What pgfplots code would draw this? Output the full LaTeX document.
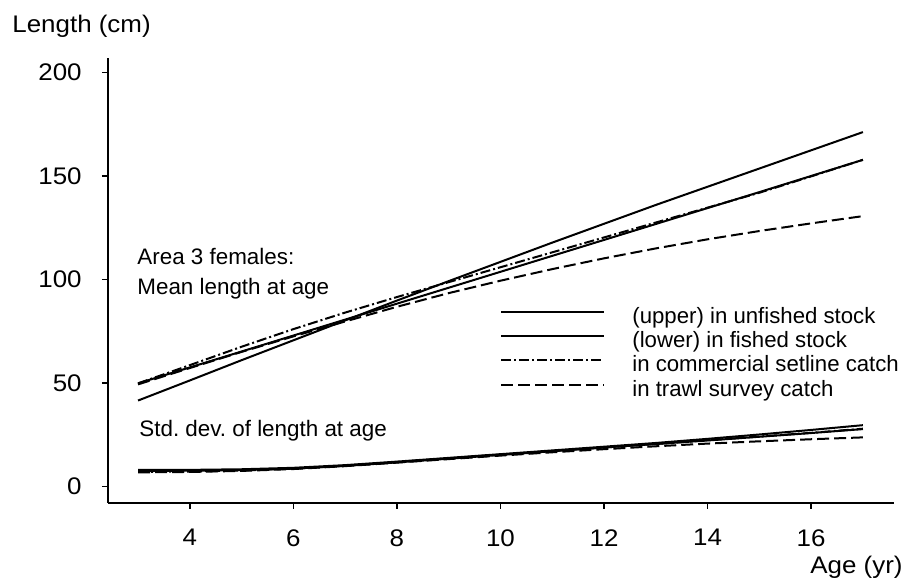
\documentclass[border=0pt]{standalone}
\usepackage{fontspec}
\setmainfont{Liberation Sans}
\newfontfamily\widefont{Liberation Sans}[FakeStretch=1.08]
\usepackage{pgfplots}
\pgfplotsset{compat=1.18}
\frenchspacing
\begin{document}
\begin{tikzpicture}
\path[use as bounding box] (-54pt,-39.5pt) rectangle (398pt,251.5pt);
\begin{axis}[
  at={(0pt,0pt)}, anchor=south west,
  width=393pt, height=222.5pt, scale only axis,
  xmin=2.42, xmax=17.6, ymin=-8, ymax=207,
  axis lines=left, axis line style={-, line width=0.75pt},
  xtick={4,6,...,16}, ytick={0,50,...,200},
  tick align=outside, major tick length=3pt,
  tick style={line width=0.75pt, black},
  /pgf/number format/assume math mode=true,
  tick label style={font=\widefont\fontsize{12}{14}\selectfont},
  yticklabel style={inner sep=0pt, anchor=east, xshift=-10pt},
  xticklabel style={inner sep=0pt, anchor=north, yshift=-10pt},
  clip=false,
  cycle list={{black, solid}},
  no markers,
  legend cell align=left,
  legend style={at={(0.4987,0.44)}, anchor=north west, draw=none, fill=none,
    inner sep=0pt, row sep=1.6pt, font=\fontsize{11.1}{12}\selectfont,
    nodes={inner sep=0pt, text height=8pt, text depth=2.5pt},
    /tikz/every odd column/.append style={column sep=13.5pt}},
  legend image code/.code={\draw[#1] (0pt,3pt) -- (51.5pt,3pt);},
  every axis plot/.append style={line width=1pt},
]
% Mean length at age
\addplot[black, solid] coordinates {(3,41.5) (4,51.2) (5,61) (6,70.6) (7,80.2) (8,89.8) (9,99.2) (10,108.5) (11,117.8) (12,126.9) (13,136) (14,144.8) (15,153.6) (16,162.4) (17,171.2)};
\addlegendentry{(upper) in unfished stock}
\addplot[black, solid] coordinates {(3,49.8) (4,57.5) (5,65.2) (6,72.9) (7,80.6) (8,88.3) (9,96) (10,103.7) (11,111.4) (12,119.1) (13,126.8) (14,134.5) (15,142.2) (16,150) (17,157.8)};
\addlegendentry{(lower) in fished stock}
\addplot[black, dash pattern=on 5pt off 1.5pt on 1pt off 1.5pt] coordinates {(3,49.8) (4,58.6) (5,67.5) (6,76) (7,84) (8,91.5) (9,98.7) (10,105.9) (11,113.1) (12,120.3) (13,127.5) (14,134.7) (15,141.9) (16,149.8) (17,157.8)};
\addlegendentry{in commercial setline catch}
\addplot[black, dash pattern=on 6pt off 2.5pt] coordinates {(3,49.3) (4,57.2) (5,65) (6,72.5) (7,79.7) (8,86.8) (9,93.4) (10,99.4) (11,105) (12,110.2) (13,115) (14,119.4) (15,123.4) (16,127.1) (17,130.6)};
\addlegendentry{in trawl survey catch}
% Std. dev. of length at age
\addplot[black, solid, forget plot] coordinates {(3,8) (4,8) (5,8.3) (6,9) (7,10.3) (8,12) (9,13.8) (10,15.6) (11,17.4) (12,19.2) (13,21) (14,23) (15,25.1) (16,27.3) (17,29.6)};
\addplot[black, solid, forget plot] coordinates {(3,7.5) (4,7.6) (5,7.9) (6,8.6) (7,9.9) (8,11.6) (9,13.4) (10,15.2) (11,17) (12,18.8) (13,20.5) (14,22.2) (15,24) (16,25.8) (17,27.7)};
\addplot[black, forget plot, dash pattern=on 5pt off 1.5pt on 1pt off 1.5pt] coordinates {(3,7) (4,7.2) (5,7.7) (6,8.6) (7,10) (8,11.8) (9,13.6) (10,15.4) (11,17.1) (12,18.8) (13,20.5) (14,22.3) (15,24.1) (16,25.9) (17,27.9)};
\addplot[black, forget plot, dash pattern=on 6pt off 2.5pt] coordinates {(3,6.8) (4,7) (5,7.5) (6,8.4) (7,9.8) (8,11.5) (9,13.2) (10,14.9) (11,16.5) (12,18) (13,19.4) (14,20.7) (15,21.8) (16,22.8) (17,23.7)};
\end{axis}
\node[anchor=base west, inner sep=0pt, font=\widefont\fontsize{12}{14}\selectfont] at (-48pt,235pt) {Length (cm)};
\node[anchor=base west, inner sep=0pt, font=\fontsize{11.2}{12}\selectfont] at (14.5pt,119pt) {Area 3 females:};
\node[anchor=base west, inner sep=0pt, font=\fontsize{11.2}{12}\selectfont] at (14.5pt,104pt) {Mean length at age};
\node[anchor=base west, inner sep=0pt, font=\fontsize{11.2}{12}\selectfont] at (15.5pt,33pt) {Std. dev. of length at age};
\node[anchor=base east, inner sep=0pt, font=\widefont\fontsize{12}{14}\selectfont] at (397.5pt,-35.5pt) {Age (yr)};
\end{tikzpicture}
\end{document}
